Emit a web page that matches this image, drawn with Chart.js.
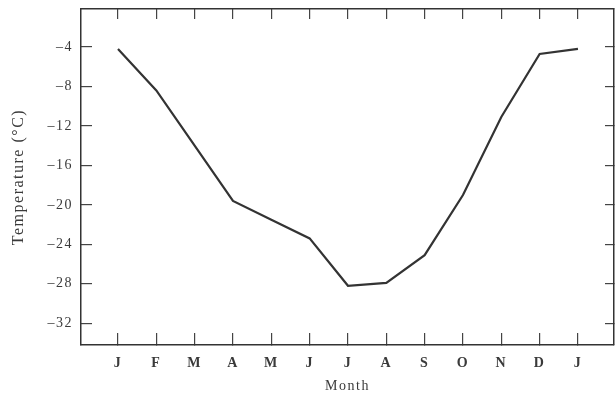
<!DOCTYPE html>
<html><head><meta charset="utf-8">
<script src="https://cdn.jsdelivr.net/npm/chart.js@4.4.0/dist/chart.umd.min.js"></script>
<style>html,body{margin:0;padding:0;background:#fff}#wrap{width:615px;height:401px}</style>
</head><body><div id="wrap"><canvas id="c" width="615" height="401"></canvas></div>
<script>
const monthLabels = ['J','F','M','A','M','J','J','A','S','O','N','D','J'];
const monthPos = [0,1,2,3,4,5,6,7,8,9,10,11,12];
const temperature = [-4.2,-8.4,-14.0,-19.6,-21.5,-23.4,-28.2,-27.9,-25.1,-19.0,-11.1,-4.7,-4.2];
const yTicks = [-4,-8,-12,-16,-20,-24,-28,-32];
const xTitle = 'Month';
const yTitle = 'Temperature (°C)';

const X_MIN = -0.965, X_MAX = 12.94, Y_MIN = -34.2, Y_MAX = -0.15;
const INK = '#3a3a3a';
const FONT = 'Liberation Serif';

const spacing = {
  id: 'spacing',
  beforeLayout(chart){ chart.ctx.letterSpacing = '1.5px'; },
  beforeDraw(chart){ chart.ctx.letterSpacing = '1.5px'; }
};

const monthTicks = s => { s.ticks = monthPos.map(v => ({value: v})); };
const tempTicks = s => { s.ticks = yTicks.map(v => ({value: v})); };
const fixW = w => s => { s.width = w; s.paddingTop = 0; s.paddingBottom = 0; s.paddingLeft = 0; s.paddingRight = 0; };
const fixH = h => s => { s.height = h; s.paddingTop = 0; s.paddingBottom = 0; s.paddingLeft = 0; s.paddingRight = 0; };
const border = {display: true, color: '#333', width: 1.5};

new Chart(document.getElementById('c'), {
  type: 'line',
  data: {
    datasets: [{
      data: monthPos.map((m, i) => ({x: m, y: temperature[i]})),
      borderColor: '#333',
      borderWidth: 2.2,
      pointRadius: 0,
      tension: 0,
      fill: false
    }]
  },
  options: {
    responsive: false,
    animation: false,
    devicePixelRatio: 1,
    layout: {padding: 0},
    plugins: {legend: {display: false}, tooltip: {enabled: false}},
    scales: {
      x: {
        type: 'linear', position: 'bottom', min: X_MIN, max: X_MAX,
        afterBuildTicks: monthTicks,
        afterFit: fixH(56),
        ticks: {callback: (v, i) => monthLabels[i], padding: 22, autoSkip: false, maxRotation: 0,
                color: INK, font: {family: FONT, size: 14, weight: 'bold'}},
        grid: {drawOnChartArea: false, drawTicks: true, tickLength: -12, color: '#444', lineWidth: 1.2},
        border: border,
        title: {display: true, text: xTitle, color: INK, font: {family: FONT, size: 14}, padding: {top: 0, bottom: 6}}
      },
      x2: {
        type: 'linear', position: 'top', min: X_MIN, max: X_MAX,
        afterBuildTicks: monthTicks,
        afterFit: fixH(9),
        ticks: {display: false},
        grid: {drawOnChartArea: false, drawTicks: true, tickLength: -10, color: '#444', lineWidth: 1.2},
        border: border
      },
      y: {
        type: 'linear', position: 'left', min: Y_MIN, max: Y_MAX,
        afterBuildTicks: tempTicks,
        afterFit: fixW(81),
        ticks: {callback: v => String(v).replace('-', '\u2013'), padding: 19,
                color: INK, font: {family: FONT, size: 14}},
        grid: {drawOnChartArea: false, drawTicks: true, tickLength: -11, color: '#444', lineWidth: 1.2},
        border: border,
        title: {display: true, text: yTitle, color: INK, font: {family: FONT, size: 16}, padding: {top: 9, bottom: 0}}
      },
      y2: {
        type: 'linear', position: 'right', min: Y_MIN, max: Y_MAX,
        afterBuildTicks: tempTicks,
        afterFit: fixW(1),
        ticks: {display: false},
        grid: {drawOnChartArea: false, drawTicks: true, tickLength: -9, color: '#444', lineWidth: 1.2},
        border: border
      }
    }
  },
  plugins: [spacing]
});
</script>
</body></html>
